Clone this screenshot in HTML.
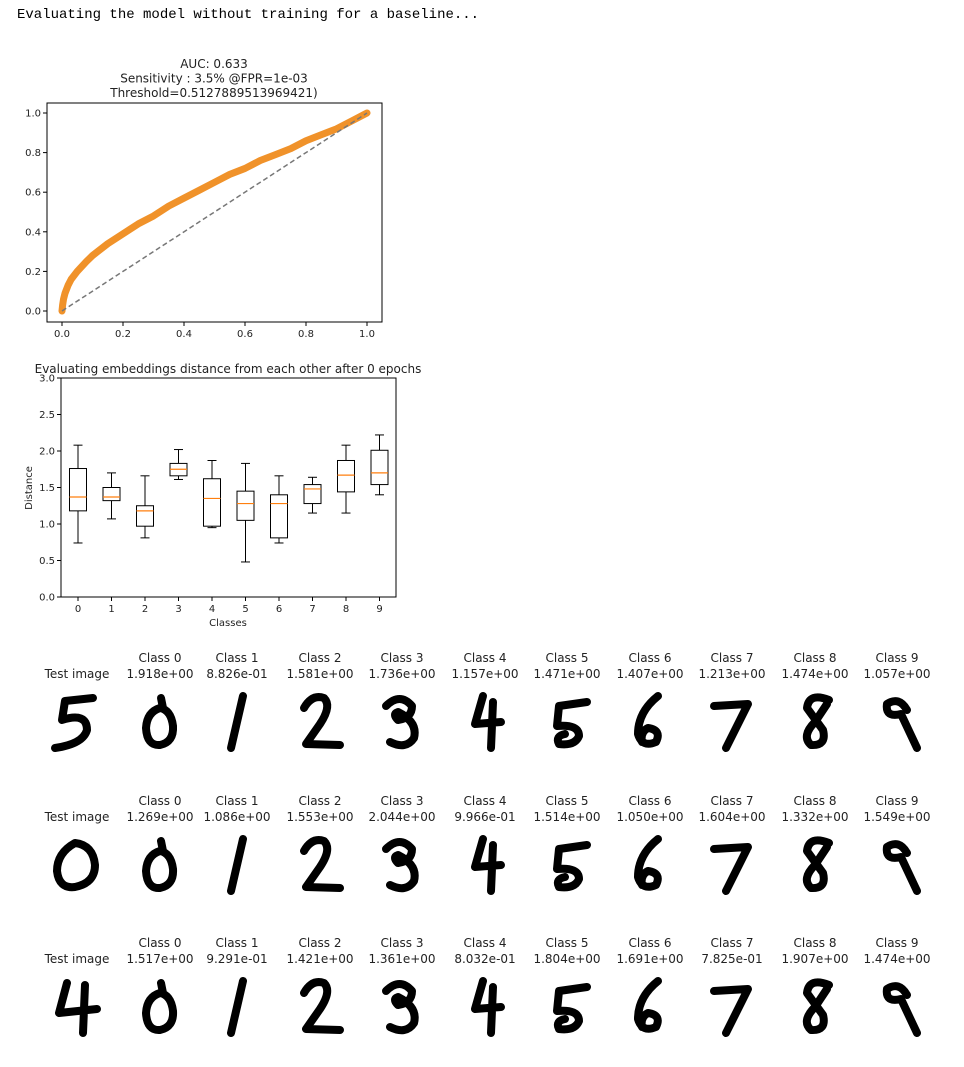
<!DOCTYPE html>
<html><head><meta charset="utf-8">
<style>
body{margin:0;background:#fff;width:964px;height:1063px;overflow:hidden;font-family:"DejaVu Sans","Liberation Sans",sans-serif;}
svg text{font-family:"DejaVu Sans","Liberation Sans",sans-serif;fill:#222;}
</style></head>
<body>
<svg id="root" width="964" height="1063" viewBox="0 0 964 1063">
<text x="17" y="18" style="font-family:'Liberation Mono',monospace;font-size:14px;fill:#000">Evaluating the model without training for a baseline...</text>
<g id="roc"></g>
<g id="box"></g>
<g id="grid"></g>
</svg>
<script>
const NS="http://www.w3.org/2000/svg";
function mk(p,t,a){const e=document.createElementNS(NS,t);for(const k in a)e.setAttribute(k,a[k]);p.appendChild(e);return e;}
// ROC data
const rocFpr=[0,0.002,0.005,0.01,0.02,0.03,0.05,0.08,0.1,0.15,0.2,0.25,0.3,0.35,0.4,0.45,0.5,0.55,0.6,0.65,0.7,0.75,0.8,0.85,0.9,0.95,1.0];
const rocTpr=[0,0.03,0.06,0.09,0.13,0.16,0.2,0.25,0.28,0.34,0.39,0.44,0.48,0.53,0.57,0.61,0.65,0.69,0.72,0.76,0.79,0.82,0.86,0.89,0.92,0.96,1.0];
const rocTicks=["0.0","0.2","0.4","0.6","0.8","1.0"];
// Boxplot data
const boxClasses=["0","1","2","3","4","5","6","7","8","9"];
const boxLo=[0.74,1.07,0.81,1.61,0.95,0.48,0.74,1.15,1.15,1.40];
const boxQ1=[1.18,1.32,0.97,1.66,0.97,1.05,0.81,1.28,1.44,1.54];
const boxMed=[1.37,1.37,1.18,1.75,1.35,1.28,1.28,1.48,1.67,1.70];
const boxQ3=[1.76,1.50,1.25,1.83,1.62,1.45,1.40,1.54,1.87,2.01];
const boxHi=[2.08,1.70,1.66,2.02,1.87,1.83,1.66,1.64,2.08,2.22];
const boxTicks=["0.0","0.5","1.0","1.5","2.0","2.5","3.0"];
// Distance table
const distRows=[
["1.918e+00","8.826e-01","1.581e+00","1.736e+00","1.157e+00","1.471e+00","1.407e+00","1.213e+00","1.474e+00","1.057e+00"],
["1.269e+00","1.086e+00","1.553e+00","2.044e+00","9.966e-01","1.514e+00","1.050e+00","1.604e+00","1.332e+00","1.549e+00"],
["1.517e+00","9.291e-01","1.421e+00","1.361e+00","8.032e-01","1.804e+00","1.691e+00","7.825e-01","1.907e+00","1.474e+00"]];
const testDigits=["5","0","4"];

// ROC chart
(function(){
const g=document.getElementById('roc');
const X=v=>62+v*305, Y=v=>311-v*198;
["AUC: 0.633","Sensitivity : 3.5% @FPR=1e-03","Threshold=0.5127889513969421)"].forEach((s,i)=>{
 const t=mk(g,'text',{x:214,y:68+i*14.5,'text-anchor':'middle','font-size':'12'});t.textContent=s;
 
 });
const fr=mk(g,'rect',{x:47,y:103,width:335,height:219,fill:'none',stroke:'#000','stroke-width':1});


rocTicks.forEach((s,i)=>{const v=i*0.2;
 mk(g,'line',{x1:X(v),x2:X(v),y1:322,y2:326,stroke:'#000'});
 const tx=mk(g,'text',{x:X(v),y:337,'text-anchor':'middle','font-size':'10'});tx.textContent=s;
 
 
 mk(g,'line',{x1:43,x2:47,y1:Y(v),y2:Y(v),stroke:'#000'});
 const ty=mk(g,'text',{x:41,y:Y(v)+3.5,'text-anchor':'end','font-size':'10'});ty.textContent=s;
 
 });
const pts=rocFpr.map((f,i)=>X(f)+','+Y(rocTpr[i])).join(' ');
const pl=mk(g,'polyline',{points:pts,fill:'none',stroke:'#f0922a','stroke-width':7,'stroke-linecap':'round','stroke-linejoin':'round'});


const d=mk(g,'line',{x1:X(0),y1:Y(0),x2:X(1),y2:Y(1),stroke:'#777','stroke-width':1.5,'stroke-dasharray':'5,3'});


})();

// Boxplot
(function(){
const g=document.getElementById('box');
const X=i=>78+i*33.5, Y=v=>597-v*73;
const t=mk(g,'text',{x:228,y:373,'text-anchor':'middle','font-size':'12'});t.textContent="Evaluating embeddings distance from each other after 0 epochs";


const fr=mk(g,'rect',{x:61,y:378,width:335,height:219,fill:'none',stroke:'#000'});


boxTicks.forEach((s,i)=>{const v=i*0.5;
 mk(g,'line',{x1:57,x2:61,y1:Y(v),y2:Y(v),stroke:'#000'});
 const ty=mk(g,'text',{x:55,y:Y(v)+3.5,'text-anchor':'end','font-size':'10'});ty.textContent=s;
 
 });
boxClasses.forEach((c,i)=>{const x=X(i);
 mk(g,'line',{x1:x,x2:x,y1:597,y2:601,stroke:'#000'});
 const tx=mk(g,'text',{x:x,y:612,'text-anchor':'middle','font-size':'10'});tx.textContent=c;
 
 
 const bg=mk(g,'g',{});
 
 
 mk(bg,'line',{x1:x,x2:x,y1:Y(boxHi[i]),y2:Y(boxQ3[i]),stroke:'#000'});
 mk(bg,'line',{x1:x,x2:x,y1:Y(boxQ1[i]),y2:Y(boxLo[i]),stroke:'#000'});
 mk(bg,'line',{x1:x-4.5,x2:x+4.5,y1:Y(boxHi[i]),y2:Y(boxHi[i]),stroke:'#000'});
 mk(bg,'line',{x1:x-4.5,x2:x+4.5,y1:Y(boxLo[i]),y2:Y(boxLo[i]),stroke:'#000'});
 mk(bg,'rect',{x:x-8.5,y:Y(boxQ3[i]),width:17,height:Y(boxQ1[i])-Y(boxQ3[i]),fill:'none',stroke:'#000'});
 mk(bg,'line',{x1:x-8.5,x2:x+8.5,y1:Y(boxMed[i]),y2:Y(boxMed[i]),stroke:'#ff7f0e','stroke-width':1.2});
});
const xl=mk(g,'text',{x:228,y:626,'text-anchor':'middle','font-size':'10'});xl.textContent="Classes";


const yl=mk(g,'text',{x:0,y:0,'text-anchor':'middle','font-size':'10',transform:'translate(32,488) rotate(-90)'});yl.textContent="Distance";


})();

// Digits
const glyph={
"5":"M46,8 L18,11 L15,30 Q40,22 40,40 Q36,54 8,58",
"0":"M31,8 L33,18 M30,18 Q17,22 16,38 Q17,56 30,55 Q44,52 43,36 Q41,20 30,18",
"1":"M36,6 L24,58",
"2":"M14,18 Q22,4 34,8 Q42,16 30,34 L16,54 L50,55",
"3":"M14,16 Q28,2 40,16 Q40,28 26,30 Q20,24 26,22 Q46,32 42,48 Q34,60 18,52",
"4":"M28,6 L20,34 L46,32 M38,12 L36,58",
"5b":"M50,12 L22,16 L20,36 Q42,34 42,46 Q38,56 22,54 Q18,46 28,44",
"6":"M38,6 Q18,22 18,44 Q22,58 36,52 Q42,40 28,38 Q20,42 22,52",
"7":"M12,16 L46,14 L24,58",
"8":"M44,10 Q24,2 22,18 L38,40 Q42,56 26,55 Q16,46 30,32 L42,14",
"9":"M40,20 Q32,6 20,14 Q18,28 34,24 L50,58",
"0t":"M28,10 Q10,20 10,38 Q12,56 28,54 Q48,50 48,32 Q46,12 28,10",
"4t":"M20,8 L12,38 L50,34 M38,10 L36,58"
};
(function(){
const g=document.getElementById('grid');
const cols=[77,160,237,320,402,485,567,650,732,815,897];
const rowY=[657,800,942];
const testG=["5","0t","4t"];
distRows.forEach((row,r)=>{
 const y0=rowY[r];
 const lab=mk(g,'text',{x:cols[0],y:y0+21,'text-anchor':'middle','font-size':'12'});lab.textContent="Test image";
 
 
 const tp=mk(g,'path',{d:glyph[testG[r]],fill:'none',stroke:'#000','stroke-width':8,'stroke-linecap':'round','stroke-linejoin':'round',transform:`translate(${cols[0]-30},${y0+33})`});
 
 
 row.forEach((v,c)=>{const x=cols[c+1];
  const t1=mk(g,'text',{x:x,y:y0+5,'text-anchor':'middle','font-size':'12'});t1.textContent="Class "+c;
  
  
  const t2=mk(g,'text',{x:x,y:y0+21,'text-anchor':'middle','font-size':'12'});t2.textContent=v;
  
  
  const p=mk(g,'path',{d:glyph[c==5?"5b":String(c)],fill:'none',stroke:'#000','stroke-width':8,'stroke-linecap':'round','stroke-linejoin':'round',transform:`translate(${x-30},${y0+33})`});
  
  
 });
});
})();
</script>
</body></html>
